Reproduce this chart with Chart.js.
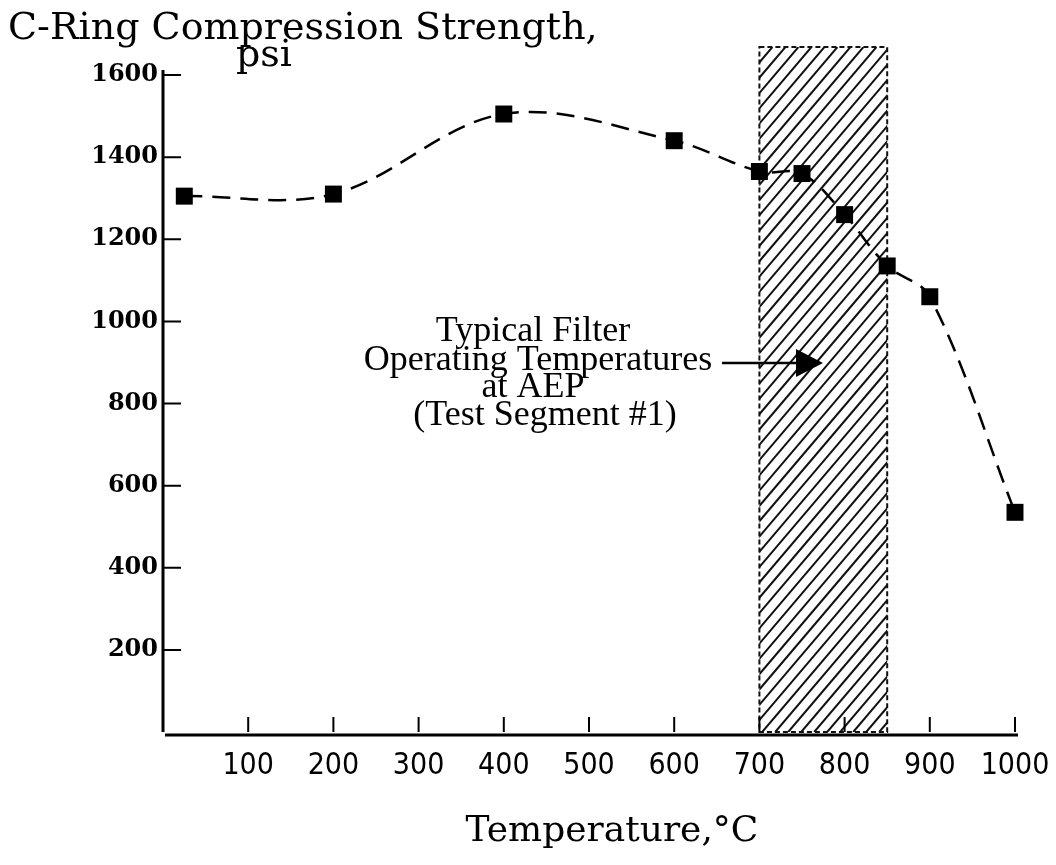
<!DOCTYPE html>
<html>
<head>
<meta charset="utf-8">
<title>C-Ring Compression Strength</title>
<script src="https://cdn.jsdelivr.net/npm/chart.js@4"></script>
<style>
    body { margin: 0; background: #fff; }
    canvas { display: block; }
</style>
</head>
<body>
<canvas id="chart" width="1056" height="865"></canvas>
<script>
// Data
const temperatures = [25, 200, 400, 600, 700, 750, 800, 850, 900, 1000];
const strengths = [1305, 1310, 1505, 1440, 1365, 1360, 1260, 1135, 1060, 535];
const xTicks = [100, 200, 300, 400, 500, 600, 700, 800, 900, 1000];
const yTicks = [200, 400, 600, 800, 1000, 1200, 1400, 1600];
const bandRange = [700, 850];
const bandTop = 1668;
const titleLines = ['C-Ring Compression Strength,', 'psi'];
const noteLines = ['Typical Filter', 'Operating Temperatures', 'at AEP', '(Test Segment #1)'];
const xTitle = 'Temperature,\u00B0C';

const serif = "'DejaVu Serif', serif";
const times = "'Liberation Serif', 'Times New Roman', serif";
const narrow = "'Liberation Sans Narrow', 'DejaVu Sans Condensed', sans-serif";

// Axes, tick marks, hatched band and the loose text
const framePlugin = {
    id: 'frame',
    beforeDatasetsDraw(chart) {
        const { ctx, scales: { x, y } } = chart;
        const x0 = x.getPixelForValue(0);
        const y0 = y.getPixelForValue(0);
        const bl = x.getPixelForValue(bandRange[0]);
        const br = x.getPixelForValue(bandRange[1]);
        const bt = y.getPixelForValue(bandTop);
        const h = y0 - bt;

        // hatching
        ctx.save();
        ctx.beginPath();
        ctx.rect(bl, bt, br - bl, h);
        ctx.clip();
        ctx.strokeStyle = '#111';
        ctx.lineWidth = 2;
        for (let sx = bl - h * 0.85; sx < br + 5; sx += 13) {
            ctx.beginPath();
            ctx.moveTo(sx, y0);
            ctx.lineTo(sx + h * 0.85, bt);
            ctx.stroke();
        }
        ctx.restore();

        // band border
        ctx.save();
        ctx.strokeStyle = '#111';
        ctx.lineWidth = 2;
        ctx.setLineDash([5, 3]);
        ctx.strokeRect(bl, bt, br - bl, h);
        ctx.restore();

        // axis lines
        ctx.save();
        ctx.strokeStyle = '#000';
        ctx.lineWidth = 3;
        ctx.beginPath();
        ctx.moveTo(x0, y.getPixelForValue(1612));
        ctx.lineTo(x0, y0);
        ctx.moveTo(x0 + 2, y0 + 3);
        ctx.lineTo(x.getPixelForValue(1000) + 3, y0 + 3);
        ctx.stroke();

        // inward tick marks
        ctx.lineWidth = 2;
        ctx.beginPath();
        xTicks.forEach(v => {
            const px = x.getPixelForValue(v);
            ctx.moveTo(px, y0);
            ctx.lineTo(px, y0 - 15);
        });
        yTicks.forEach(v => {
            const py = y.getPixelForValue(v);
            ctx.moveTo(x0, py);
            ctx.lineTo(x0 + 18, py);
        });
        ctx.stroke();
        ctx.restore();
    },
    afterDraw(chart) {
        const { ctx } = chart;
        ctx.save();
        ctx.fillStyle = '#000';
        ctx.textBaseline = 'alphabetic';

        // y axis title
        ctx.font = '38px ' + serif;
        ctx.textAlign = 'left';
        ctx.fillText(titleLines[0], 8, 39);
        ctx.textAlign = 'center';
        ctx.fillText(titleLines[1], 264, 66);

        // x axis title
        ctx.font = '36px ' + serif;
        ctx.fillText(xTitle, 612, 841);

        // annotation
        ctx.font = '36px ' + times;
        const noteY = [341, 370, 397, 425];
        const noteX = [533, 538, 533, 545];
        noteLines.forEach((t, i) => ctx.fillText(t, noteX[i], noteY[i]));

        // arrow
        ctx.strokeStyle = '#000';
        ctx.lineWidth = 2.5;
        ctx.beginPath();
        ctx.moveTo(722, 363);
        ctx.lineTo(800, 363);
        ctx.stroke();
        ctx.beginPath();
        ctx.moveTo(796, 349);
        ctx.lineTo(823, 363);
        ctx.lineTo(796, 377);
        ctx.closePath();
        ctx.fill();
        ctx.restore();
    }
};

new Chart(document.getElementById('chart'), {
    type: 'scatter',
    data: {
        datasets: [{
            data: temperatures.map((t, i) => ({ x: t, y: strengths[i] })),
            showLine: true,
            tension: 0.35,
            borderColor: '#000',
            borderWidth: 2.5,
            borderDash: [18, 10],
            pointStyle: 'rect',
            pointRadius: 12,
            pointBackgroundColor: '#000',
            pointBorderWidth: 0,
            clip: false
        }]
    },
    options: {
        responsive: false,
        animation: false,
        layout: { padding: { top: 75, right: 41, left: 0, bottom: 0 } },
        plugins: {
            legend: { display: false },
            tooltip: { enabled: false }
        },
        scales: {
            x: {
                type: 'linear',
                min: 0,
                max: 1000,
                grid: { display: false, drawTicks: false },
                border: { display: false },
                afterFit: s => {
                    s.height = 133;
                    s.paddingLeft = 0;
                    s.paddingRight = 0;
                },
                afterBuildTicks: s => { s.ticks = xTicks.map(v => ({ value: v })); },
                ticks: {
                    color: '#000',
                    padding: 16,
                    autoSkip: false,
                    maxRotation: 0,
                    callback: v => String(v),
                    font: { family: narrow, size: 30 }
                }
            },
            y: {
                min: 0,
                max: 1600,
                grid: { display: false, drawTicks: false },
                border: { display: false },
                afterFit: s => { s.width = 163; },
                afterBuildTicks: s => { s.ticks = yTicks.map(v => ({ value: v })); },
                ticks: {
                    color: '#000',
                    padding: 5,
                    callback: v => String(v),
                    font: { family: serif, size: 24, weight: 'bold' }
                }
            }
        }
    },
    plugins: [framePlugin]
});
</script>
</body>
</html>
